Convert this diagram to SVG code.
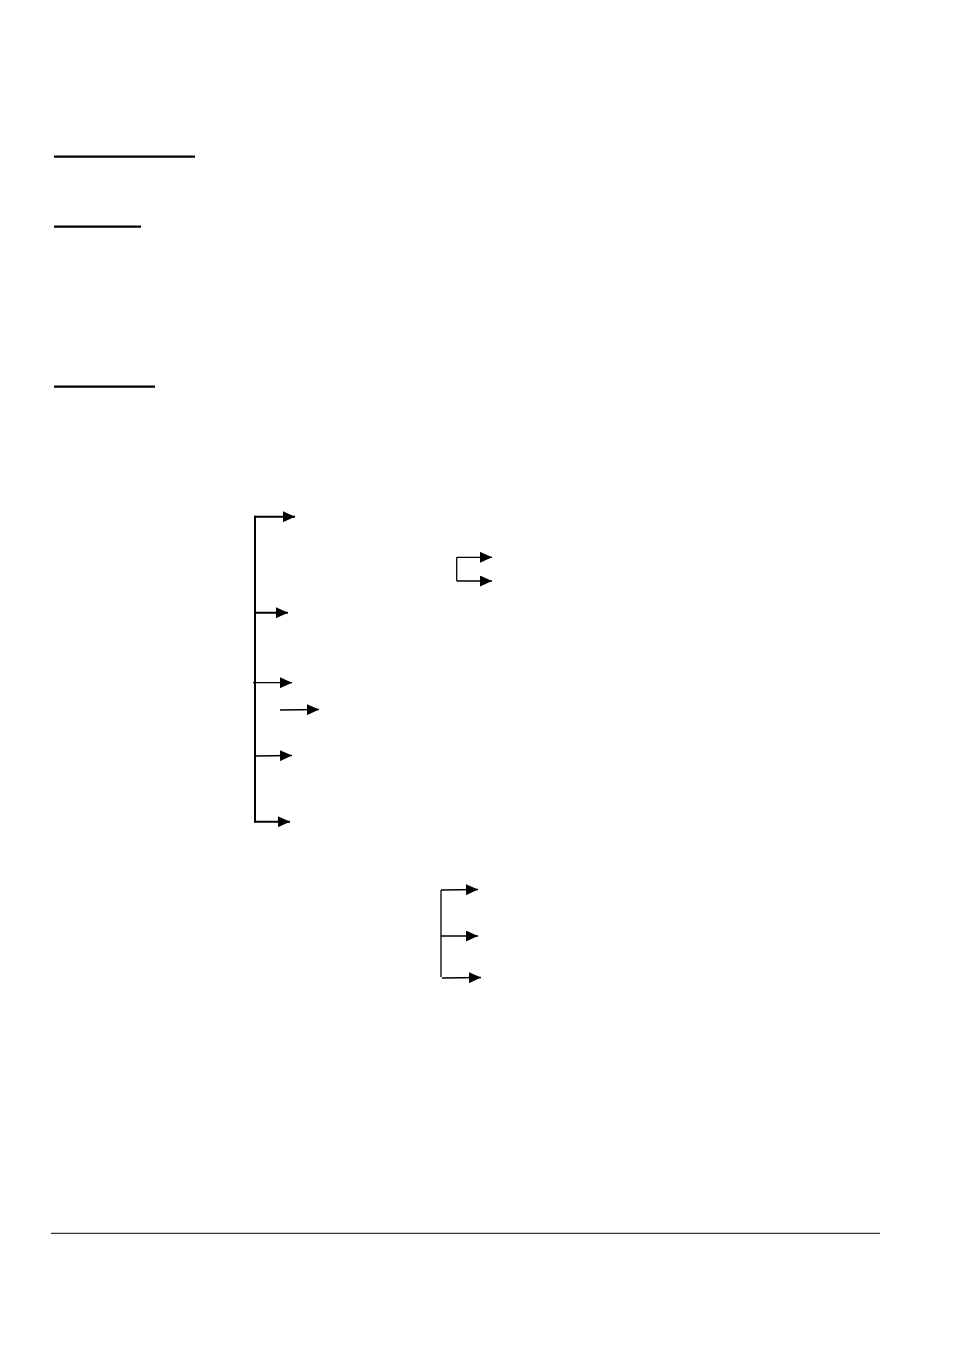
<svg xmlns="http://www.w3.org/2000/svg" width="954" height="1351" viewBox="0 0 954 1351">
<style>
.ul{stroke:#000;stroke-width:2.2;fill:none}
.thick{stroke:#000;stroke-width:2;fill:none}
.thin{stroke:#000;stroke-width:1.3;fill:none}
.rule{stroke:#000;stroke-width:1;fill:none}
</style>
<defs>
<marker id="ah" markerUnits="userSpaceOnUse" markerWidth="13" markerHeight="11" refX="12" refY="5.5" orient="auto">
<polygon points="0,0 12,5.5 0,11" fill="#000"/>
</marker>
</defs>
<rect width="954" height="1351" fill="#fff"/>
<g id="headings">
<line class="ul" x1="54" y1="156.7" x2="195" y2="156.7"/>
<line class="ul" x1="54" y1="226.7" x2="141" y2="226.7"/>
<line class="ul" x1="54" y1="386.7" x2="155" y2="386.7"/>
</g>
<g id="connectors">
<g id="main-bracket">
<line class="thick" x1="255" y1="515.7" x2="255" y2="822.7"/>
<line class="thick" x1="255" y1="516.7" x2="295" y2="516.7" marker-end="url(#ah)"/>
<line class="thick" x1="255" y1="612.7" x2="288" y2="612.7" marker-end="url(#ah)"/>
<line class="thin" x1="253" y1="682.7" x2="292" y2="682.7" marker-end="url(#ah)"/>
<line class="thin" x1="280" y1="710" x2="319" y2="709.5" marker-end="url(#ah)"/>
<line class="thin" x1="255" y1="756" x2="292" y2="755.5" marker-end="url(#ah)"/>
<line class="thick" x1="255" y1="821.7" x2="290" y2="821.7" marker-end="url(#ah)"/>
</g>
<g id="small-bracket">
<line class="thin" x1="456.7" y1="557.3" x2="456.7" y2="581"/>
<line class="thin" x1="456.7" y1="557.3" x2="492" y2="557.3" marker-end="url(#ah)"/>
<line class="thin" x1="456.7" y1="581" x2="492" y2="581" marker-end="url(#ah)"/>
</g>
<g id="lower-bracket">
<line class="thin" x1="441" y1="890" x2="441" y2="977"/>
<line class="thin" x1="441" y1="890" x2="478" y2="889.5" marker-end="url(#ah)"/>
<line class="thin" x1="441" y1="936" x2="478" y2="936" marker-end="url(#ah)"/>
<line class="thin" x1="442" y1="978" x2="481" y2="977.5" marker-end="url(#ah)"/>
</g>
</g>
<g id="footer">
<line class="rule" x1="51" y1="1233.3" x2="880" y2="1233.3"/>
</g>
</svg>
